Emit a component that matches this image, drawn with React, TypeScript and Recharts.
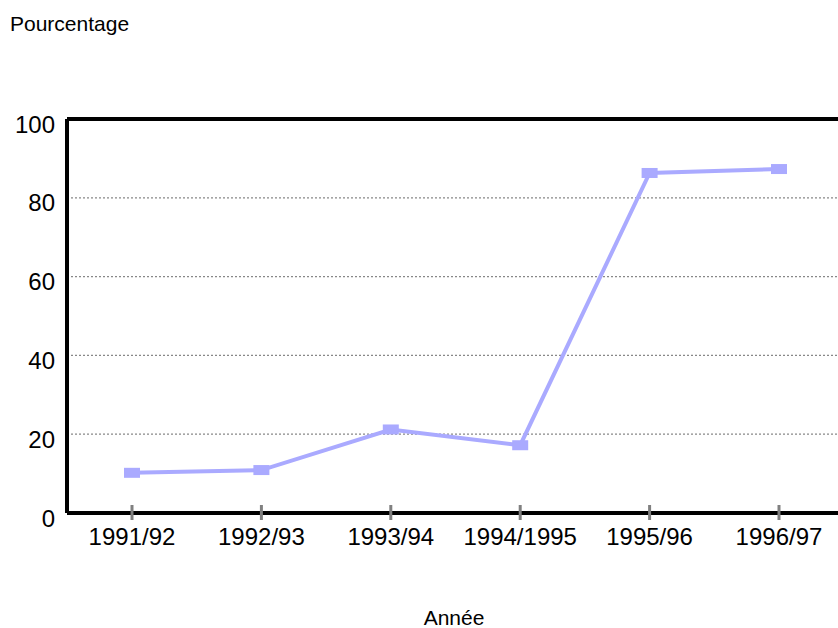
import { LineChart, Line, XAxis, YAxis, CartesianGrid, ReferenceLine } from "recharts";

const years = ["1991/92", "1992/93", "1993/94", "1994/1995", "1995/96", "1996/97"];
const pourcentage = [10.2, 10.9, 21.2, 17.2, 86.3, 87.3];
const yTicks = [0, 20, 40, 60, 80, 100];

const data = years.map((y, i) => ({ annee: y, pct: pourcentage[i] }));

const FONT = "'Liberation Sans', Arial, sans-serif";

function XTick(props: any) {
  const { x, y, payload } = props;
  return (
    <g>
      <line x1={x} x2={x} y1={y - 8} y2={y + 7} stroke="#808080" strokeWidth={3} />
      <text x={x} y={y + 32} textAnchor="middle" fontSize={24} fontFamily={FONT} fill="#000">
        {payload.value}
      </text>
    </g>
  );
}

function SquareDot(props: any) {
  const { cx, cy } = props;
  if (cx == null || cy == null) return null;
  return <rect x={cx - 8} y={cy - 5} width={16} height={10} fill="#aaaaff" />;
}

export default function App() {
  return (
    <div style={{ position: "absolute", left: 0, top: 0, width: 838, height: 628, overflow: "hidden", background: "#fff", fontFamily: FONT }}>
      <div style={{ position: "absolute", left: 10, top: 12, fontSize: 21 }}>Pourcentage</div>
      <div style={{ position: "absolute", left: 0, width: 908, top: 606, fontSize: 21, textAlign: "center" }}>Année</div>
      <LineChart width={844} height={628} data={data} margin={{ top: 119, right: 0, left: 0, bottom: 75 }}>
        <CartesianGrid vertical={false} stroke="#888" strokeDasharray="2 2" strokeWidth={1.3} />
        <XAxis
          dataKey="annee"
          axisLine={{ stroke: "#000", strokeWidth: 4 }}
          tickLine={false}
          tickSize={0}
          tickMargin={0}
          tick={<XTick />}
          height={40}
          interval={0}
          padding={{ left: 65, right: 65 }}
        />
        <YAxis
          domain={[0, 100]}
          ticks={yTicks}
          width={67}
          axisLine={{ stroke: "#000", strokeWidth: 4 }}
          tickLine={false}
          tickSize={0}
          tickMargin={12}
          tick={{ fontSize: 24, fill: "#000", fontFamily: FONT, dy: 5 }}
        />
        <ReferenceLine y={100} stroke="#000" strokeWidth={4} />
        <Line
          dataKey="pct"
          stroke="#aaaaff"
          strokeWidth={4}
          dot={<SquareDot />}
          activeDot={false}
          isAnimationActive={false}
        />
      </LineChart>
    </div>
  );
}
